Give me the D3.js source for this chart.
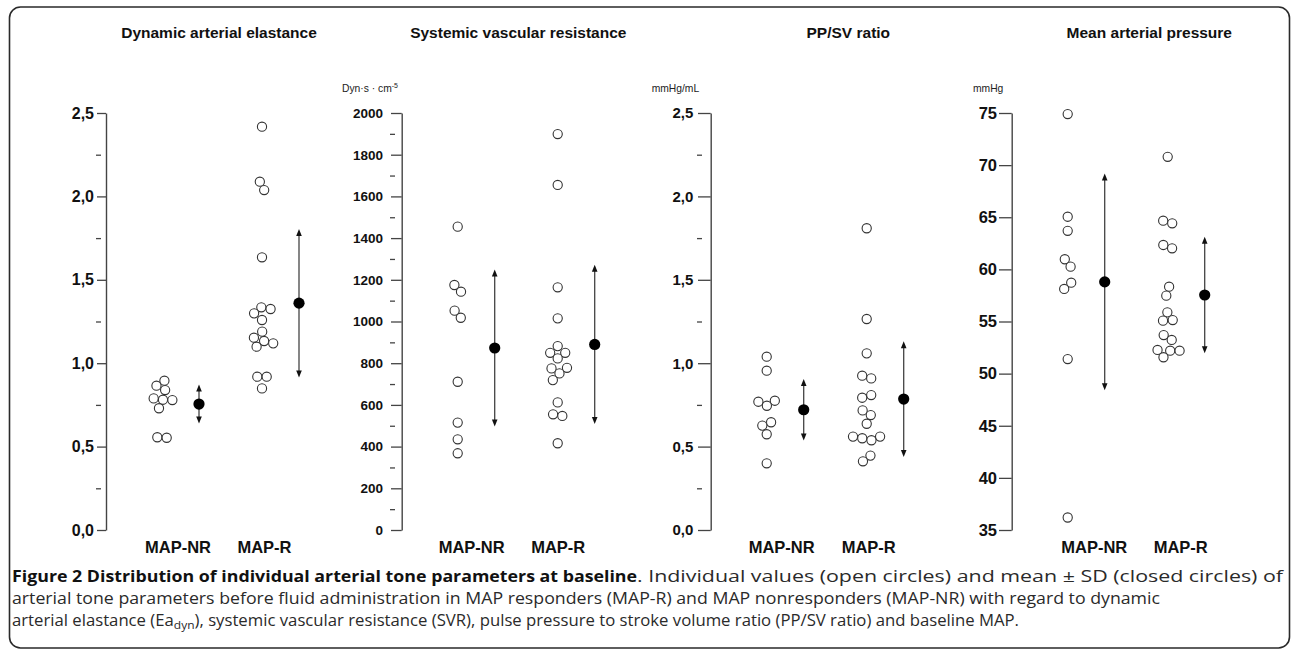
<!DOCTYPE html>
<html><head><meta charset="utf-8">
<script src="https://cdn.jsdelivr.net/npm/d3@7"></script>
<style>body{margin:0;background:#fff}svg{display:block}</style>
</head><body>
<svg id="chart" width="1292" height="651"></svg>
<script>
// ---------- DATA ----------
const groups = ["MAP-NR", "MAP-R"];
const panelTitles = ["Dynamic arterial elastance", "Systemic vascular resistance", "PP/SV ratio", "Mean arterial pressure"];
const unitLabels = ["", "Dyn·s · cm", "mmHg/mL", "mmHg"];
const unitSup = ["", "-5", "", ""];

// Dynamic arterial elastance
const eaNR = [0.895, 0.865, 0.839, 0.789, 0.781, 0.779, 0.730, 0.556, 0.553];
const eaR = [2.418, 2.088, 2.038, 1.635, 1.335, 1.325, 1.299, 1.259, 1.189, 1.153, 1.133, 1.119, 1.099, 0.919, 0.919, 0.849];
const eaMean = [0.755, 1.36];
const eaSD = [0.117, 0.445];
const eaTicks = [0, 0.5, 1.0, 1.5, 2.0, 2.5];
const eaMinorTicks = [0.25, 0.75, 1.25, 1.75, 2.25];

// Systemic vascular resistance
const svrNR = [1455, 1175, 1143, 1052, 1018, 711, 515, 435, 368];
const svrR = [1899, 1655, 1164, 1015, 882, 850, 850, 823, 778, 775, 751, 719, 612, 555, 547, 416];
const svrMean = [873, 890];
const svrSD = [376, 382];
const svrTicks = [0, 200, 400, 600, 800, 1000, 1200, 1400, 1600, 1800, 2000];
const svrMinorTicks = [100, 300, 500, 700, 900, 1100, 1300, 1500, 1700, 1900];

// PP/SV ratio
const ppsvNR = [1.039, 0.955, 0.775, 0.769, 0.745, 0.646, 0.626, 0.574, 0.400];
const ppsvR = [1.809, 1.265, 1.059, 0.925, 0.909, 0.809, 0.793, 0.717, 0.689, 0.637, 0.560, 0.560, 0.550, 0.538, 0.446, 0.412];
const ppsvMean = [0.721, 0.785];
const ppsvSD = [0.185, 0.347];
const ppsvTicks = [0, 0.5, 1.0, 1.5, 2.0, 2.5];
const ppsvMinorTicks = [0.25, 0.75, 1.25, 1.75, 2.25];

// Mean arterial pressure
const mapNR = [74.9, 65.05, 63.7, 60.97, 60.26, 58.72, 58.12, 51.4, 36.2];
const mapR = [70.8, 64.67, 64.42, 62.34, 62.02, 58.34, 57.48, 55.88, 55.14, 55.08, 53.7, 53.23, 52.27, 52.2, 52.2, 51.57];
const mapMean = [58.8, 57.54];
const mapSD = [10.4, 5.59];
const mapTicks = [35, 40, 45, 50, 55, 60, 65, 70, 75];
const mapMinorTicks = [];

// caption text
const captionBold = "Figure 2 Distribution of individual arterial tone parameters at baseline";
const captionLine1 = ". Individual values (open circles) and mean ± SD (closed circles) of";
const captionLine2 = "arterial tone parameters before fluid administration in MAP responders (MAP-R) and MAP nonresponders (MAP-NR) with regard to dynamic";
const captionLine3a = "arterial elastance (Ea";
const captionLine3sub = "dyn";
const captionLine3b = "), systemic vascular resistance (SVR), pulse pressure to stroke volume ratio (PP/SV ratio) and baseline MAP.";

// ---------- LAYOUT / STYLE ----------
const commaFmt = d => d3.format(".1f")(d).replace(".", ",");
const intFmt = d3.format("d");
const panels = [
  {title: panelTitles[0], unit: unitLabels[0], sup: unitSup[0], values: [eaNR, eaR], mean: eaMean, sd: eaSD,
   ticks: eaTicks, minor: eaMinorTicks, domain: [0, 2.5], fmt: commaFmt,
   axisX: 106, titleDx: 113, tickSize: 9, pad: 3, fs: 16, unitX: 0, labDx: [72, 158.5]},
  {title: panelTitles[1], unit: unitLabels[1], sup: unitSup[1], values: [svrNR, svrR], mean: svrMean, sd: svrSD,
   ticks: svrTicks, minor: svrMinorTicks, domain: [0, 2000], fmt: intFmt,
   axisX: 401.7, titleDx: 116.6, tickSize: 10.7, pad: 8, fs: 13.5, unitX: 342, labDx: [70, 156.5]},
  {title: panelTitles[2], unit: unitLabels[2], sup: unitSup[2], values: [ppsvNR, ppsvR], mean: ppsvMean, sd: ppsvSD,
   ticks: ppsvTicks, minor: ppsvMinorTicks, domain: [0, 2.5], fmt: commaFmt,
   axisX: 710.7, titleDx: 137.6, tickSize: 12.7, pad: 4.7, fs: 15, unitX: 651.7, labDx: [71, 158]},
  {title: panelTitles[3], unit: unitLabels[3], sup: unitSup[3], values: [mapNR, mapR], mean: mapMean, sd: mapSD,
   ticks: mapTicks, minor: mapMinorTicks, domain: [35, 75], fmt: intFmt,
   axisX: 1011.7, titleDx: 137.6, tickSize: 12.7, pad: 2, fs: 16.5, unitX: 973, labDx: [82.6, 169]}
];

const svg = d3.select("#chart");
const FONT = "'Liberation Sans', Arial, Helvetica, sans-serif";
const yTop = 113, yBottom = 530;
const R = 4.6;

// frame
svg.append("rect").attr("x", 9.5).attr("y", 7).attr("width", 1280).attr("height", 641)
  .attr("rx", 11).attr("fill", "none").attr("stroke", "#2a2a2a").attr("stroke-width", 1.6);

function swarm(values, cx, y) {
  const nodes = values.map((v, i) => ({v, x: cx + ((i % 3) - 1) * 0.4, y: y(v), fy: y(v)}));
  const sim = d3.forceSimulation(nodes)
    .force("x", d3.forceX(cx).strength(0.08))
    .force("c", d3.forceCollide(R + 0.1).iterations(4))
    .stop();
  for (let i = 0; i < 400; i++) sim.tick();
  return nodes;
}

panels.forEach(p => {
  const g = svg.append("g");
  const y = d3.scaleLinear().domain(p.domain).range([yBottom, yTop]);
  const x = d3.scalePoint().domain(groups).range([p.axisX + 56, p.axisX + 156]);
  const meanOff = 37;

  // title
  g.append("text").attr("x", p.axisX + p.titleDx).attr("y", 38.3)
    .attr("text-anchor", "middle").attr("font-family", FONT).attr("font-weight", "bold")
    .attr("font-size", 15.5).attr("fill", "#111").text(p.title);

  // unit label
  if (p.unit) {
    const t = g.append("text").attr("x", p.unitX).attr("y", 91.5)
      .attr("font-family", FONT).attr("font-size", 10.3).attr("fill", "#222").text(p.unit);
    if (p.sup) t.append("tspan").attr("font-size", 7).attr("dy", -4).text(p.sup);
  }

  // axis
  const axis = d3.axisLeft(y).tickValues(p.ticks).tickSize(p.tickSize).tickSizeOuter(0)
    .tickPadding(p.pad).tickFormat(p.fmt);
  const ag = g.append("g").attr("transform", `translate(${p.axisX},0)`).call(axis);
  ag.select(".domain").attr("stroke", "#444").attr("stroke-width", 1.4);
  ag.selectAll(".tick line").attr("stroke", "#444").attr("stroke-width", 1.3);
  ag.selectAll(".tick text").attr("font-family", FONT).attr("font-weight", "bold")
    .attr("font-size", p.fs).attr("fill", "#111");

  if (p.minor.length) {
    const minorAxis = d3.axisLeft(y).tickValues(p.minor).tickSize(5).tickSizeOuter(0).tickFormat("");
    const mg = g.append("g").attr("transform", `translate(${p.axisX - p.tickSize + 4},0)`).call(minorAxis);
    mg.select(".domain").remove();
    mg.selectAll(".tick line").attr("stroke", "#444").attr("stroke-width", 1.3);
  }

  // group labels
  groups.forEach((grp, i) => {
    g.append("text").attr("x", p.axisX + p.labDx[i]).attr("y", 552.7)
      .attr("text-anchor", "middle").attr("font-family", FONT).attr("font-weight", "bold")
      .attr("font-size", 16.5).attr("fill", "#111").text(grp);
  });

  // individual values
  groups.forEach((grp, i) => {
    const nodes = swarm(p.values[i], x(grp), y);
    g.append("g").selectAll("circle").data(nodes).join("circle")
      .attr("cx", d => d.x).attr("cy", d => d.y).attr("r", R)
      .attr("fill", "#fff").attr("stroke", "#333").attr("stroke-width", 1.1);
  });

  // mean ± SD
  groups.forEach((grp, i) => {
    const mx = x(grp) + meanOff;
    const yHi = y(p.mean[i] + p.sd[i]);
    const yLo = y(p.mean[i] - p.sd[i]);
    g.append("line").attr("x1", mx).attr("x2", mx).attr("y1", yHi + 3).attr("y2", yLo - 3)
      .attr("stroke", "#444").attr("stroke-width", 1.3);
    g.append("path").attr("d", `M${mx},${yHi} L${mx - 2.8},${yHi + 7} L${mx + 2.8},${yHi + 7} Z`).attr("fill", "#111");
    g.append("path").attr("d", `M${mx},${yLo} L${mx - 2.8},${yLo - 7} L${mx + 2.8},${yLo - 7} Z`).attr("fill", "#111");
    g.append("circle").attr("cx", mx).attr("cy", y(p.mean[i])).attr("r", 5.6).attr("fill", "#000");
  });
});

// caption
const CF = "'Open Sans', 'Noto Sans', sans-serif";
const cap = svg.append("g").attr("font-family", CF).attr("font-size", 16).attr("fill", "#2a2a2a");
cap.append("text").attr("x", 12).attr("y", 581.5).attr("font-weight", "bold").attr("fill", "#111")
  .attr("textLength", 625).attr("lengthAdjust", "spacingAndGlyphs").text(captionBold);
cap.append("text").attr("x", 637).attr("y", 581.5)
  .attr("textLength", 646).attr("lengthAdjust", "spacingAndGlyphs").text(captionLine1);
cap.append("text").attr("x", 12).attr("y", 603.5)
  .attr("textLength", 1148).attr("lengthAdjust", "spacingAndGlyphs").text(captionLine2);
const l3 = cap.append("text").attr("x", 12).attr("y", 625.5)
  .attr("textLength", 1007).attr("lengthAdjust", "spacingAndGlyphs");
l3.append("tspan").text(captionLine3a);
l3.append("tspan").attr("font-size", 11.5).attr("dy", 3.5).text(captionLine3sub);
l3.append("tspan").attr("dy", -3.5).text(captionLine3b);
</script>
</body></html>
